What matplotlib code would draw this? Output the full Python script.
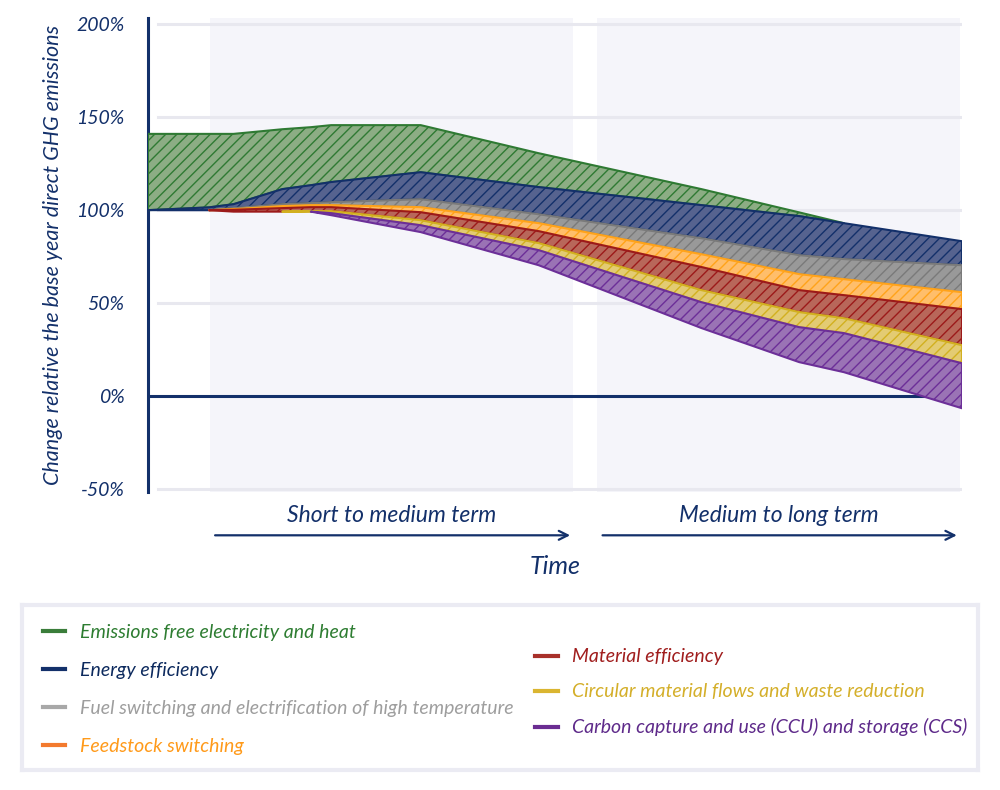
import numpy as np
import matplotlib.pyplot as plt
from matplotlib.lines import Line2D

# time axis, arbitrary units (0 = base year, 100 = end of horizon)
t = [0, 7.5, 10.5, 16.5, 20, 22.5, 33.5, 48, 68, 80, 85.5, 100]

# upper edge of each band, % of base-year direct GHG emissions
edge_green  = [141, 141, 141, 143.5, 144.6, 145.7, 145.7, 130.6, 111.3, 98.8, 93.0, 83.3]
edge_blue   = [100, 101.5, 103.2, 111.3, 113.4, 115.1, 120.4, 112.4, 102.7, 96.8, 93.0, 83.3]
edge_gray   = [100, 100, 101.1, 103.2, 103.8, 104.3, 105.9, 97.8, 84.9, 75.8, 73.7, 70.4]
edge_orange = [100, 100, 100.5, 102.2, 102.7, 102.7, 101.6, 93.0, 76.3, 65.6, 62.9, 55.9]
edge_red    = [100, 100, 100.2, 101.1, 101.6, 101.6, 98.9, 88.7, 69.4, 57.0, 54.3, 46.8]
edge_yellow = [100, 100, 99.2, 99.2, 99.5, 99.5, 94.6, 82.3, 57.0, 45.2, 41.9, 27.4]
edge_purple = [100, 100, 99.2, 99.2, 99.2, 98.4, 91.9, 78.5, 50.5, 37.1, 33.9, 17.7]
residual    = [100, 100, 99.2, 99.2, 99.2, 97.3, 88.2, 70.4, 36.6, 18.3, 12.9, -6.5]

labels = [
    "Emissions free electricity and heat",
    "Energy efficiency",
    "Fuel switching and electrification of high temperature",
    "Feedstock switching",
    "Material efficiency",
    "Circular material flows and waste reduction",
    "Carbon capture and use (CCU) and storage (CCS)",
]

period_labels = ["Short to medium term", "Medium to long term"]
period_start = [7.6, 55.2]
period_end = [52.2, 99.7]

yticks = [-50, 0, 50, 100, 150, 200]

navy = "#13306a"
edge_colors = ["#2f7a33", "#13306a", "#7a7a7a", "#ffa31a", "#9c1a1a", "#d2b020", "#6c2f98"]
face_colors = ["#8cad84", "#56638f", "#999999", "#ffbe6b", "#b8675a", "#e3cb73", "#9a73b5"]
legend_line = ["#3a7d3a", "#13306a", "#a8a8a8", "#f37a2e", "#a8302a", "#dab530", "#6b2d92"]
legend_text = ["#2e7d32", "#0d2a5e", "#9e9e9e", "#ff9a1a", "#a01d1d", "#d4af2a", "#5e2a8a"]

plt.rcParams["font.family"] = ["Lato", "DejaVu Sans"]
plt.rcParams["hatch.linewidth"] = 1.0

fig = plt.figure(figsize=(10, 7.9), dpi=100)
ax = fig.add_axes([0.148, 0.377, 0.814, 0.6])

x = np.array(t)
edges = [np.array(e) for e in
         (edge_green, edge_blue, edge_gray, edge_orange, edge_red,
          edge_yellow, edge_purple, residual)]

for i in range(7):
    upper, lower = edges[i], edges[i + 1]
    thick = upper - lower > 0.01
    mask = thick.copy()
    mask[1:] |= thick[:-1]
    mask[:-1] |= thick[1:]
    ax.fill_between(x, upper, lower, where=mask, facecolor=face_colors[i],
                    edgecolor=edge_colors[i], hatch="///", linewidth=1.5,
                    zorder=3 + i)

# period shading
for s, e in zip(period_start, period_end):
    ax.axvspan(s, e, color="#f5f5fa", zorder=0, lw=0)

for v in yticks:
    if v != 0:
        ax.axhline(v, xmin=0.012, color="#e8e8ef", lw=2.2, zorder=1)
ax.axhline(0, color=navy, lw=2.2, zorder=2)

ax.set_xlim(0, 100)
ax.set_ylim(-51.6, 203.2)
ax.set_xticks([])
ax.set_yticks(yticks)
ax.set_yticklabels([f"{v}%" for v in yticks], style="italic")
ax.tick_params(axis="y", length=0, pad=17, labelcolor=navy, labelsize=14)
for side in ("top", "right", "bottom"):
    ax.spines[side].set_visible(False)
ax.spines["left"].set_color(navy)
ax.spines["left"].set_linewidth(2.2)

ax.set_ylabel("Change relative the base year direct GHG emissions",
              color=navy, fontsize=15.5, style="italic")
ax.yaxis.set_label_coords(-0.104, 0.5)

# time arrows and labels
tr = ax.get_xaxis_transform()
for lab, s, e in zip(period_labels, period_start, period_end):
    ax.annotate("", xy=(e, -0.091), xytext=(s + 0.3, -0.091), xycoords=tr,
                arrowprops=dict(arrowstyle="->", color=navy, lw=1.6,
                                mutation_scale=16),
                annotation_clip=False)
    ax.text((s + e) / 2, -0.049, lab, transform=tr, ha="center", va="center",
            color=navy, fontsize=16.5, style="italic")
ax.text(50, -0.156, "Time", transform=tr, ha="center", va="center",
        color=navy, fontsize=18, style="italic")

# legend box
lax = fig.add_axes([0.022, 0.0253, 0.956, 0.209])
lax.set_xticks([])
lax.set_yticks([])
for sp in lax.spines.values():
    sp.set_color("#ebebf3")
    sp.set_linewidth(3)

handles = [Line2D([], [], color=c, lw=3) for c in legend_line]
kw = dict(frameon=False, fontsize=14, handlelength=1.15, handletextpad=0.75,
          borderpad=0, borderaxespad=0, loc="center left")
leg1 = lax.legend(handles[:4], labels[:4], bbox_to_anchor=(0.022, 0.49),
                  labelspacing=1.08, **kw)
for txt, c in zip(leg1.get_texts(), legend_text[:4]):
    txt.set_color(c)
    txt.set_style("italic")
lax.add_artist(leg1)
leg2 = lax.legend(handles[4:], labels[4:], bbox_to_anchor=(0.537, 0.47),
                  labelspacing=0.92, **kw)
for txt, c in zip(leg2.get_texts(), legend_text[4:]):
    txt.set_color(c)
    txt.set_style("italic")

fig.savefig("out.png", dpi=100)
